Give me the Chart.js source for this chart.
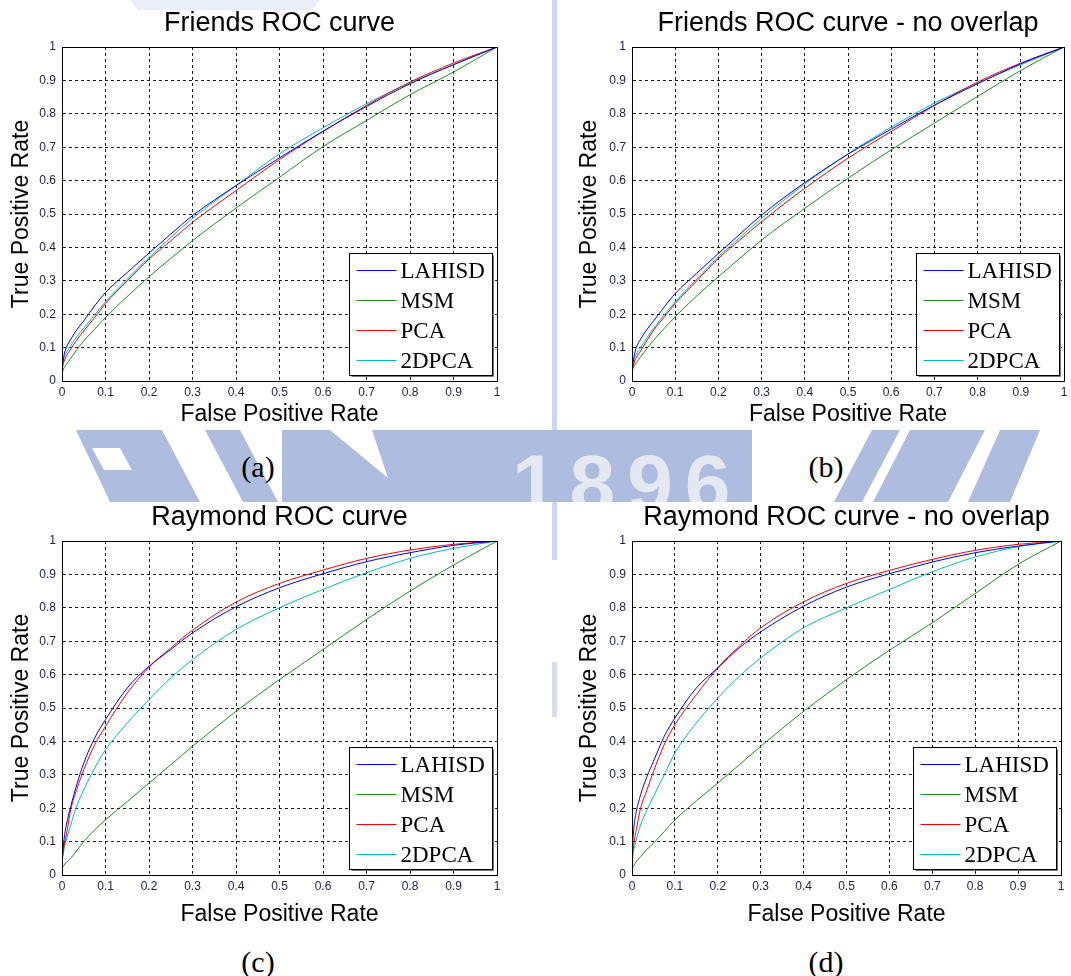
<!DOCTYPE html>
<html><head><meta charset="utf-8">
<script src="https://cdn.jsdelivr.net/npm/chart.js@4"></script>
<style>
html,body{margin:0;padding:0;background:#fff;}
body{width:1071px;height:976px;position:relative;overflow:hidden;font-family:'Liberation Sans',Arial,sans-serif;}
.wrap{position:absolute;}
canvas{display:block;}
.cap{position:absolute;width:100px;text-align:center;font-family:'Liberation Serif','Times New Roman',serif;font-size:30px;line-height:34px;color:#000;}
svg.wm{position:absolute;left:0;top:0;}
</style></head><body>
<svg class="wm" width="1071" height="976">
 <defs><clipPath id="band"><rect x="0" y="430" width="1071" height="72"/></clipPath></defs>
 <rect x="552" y="0" width="5" height="430" fill="#cdd6ee"/>
 <rect x="552" y="502" width="5" height="58" fill="#cdd6ee"/>
 <rect x="552" y="662" width="5" height="55" fill="#d6ddf0"/>
 <polygon points="130,0 320,0 312,10 138,10" fill="#eaeef8"/>
 <g clip-path="url(#band)" fill="#adbcdf">
  <polygon points="76,430 162,430 200,502 110,502"/>
  <polygon points="92,448 120,448 132,470 104,470" fill="#ffffff"/>
  <polygon points="205,430 240,430 278,502 243,502"/>
  <polygon points="282,430 752,430 752,502 282,502"/>
  <polygon points="330,430 372,430 388,478" fill="#ffffff"/>
  <text x="512" y="512" font-family="Liberation Sans, Arial" font-weight="bold" font-size="82" letter-spacing="12" fill="#e4e8f0">1896</text>
  <polygon points="872,430 900,430 862,502 834,502"/>
  <polygon points="910,430 985,430 948,502 873,502"/>
  <polygon points="1000,430 1040,430 1010,502 968,502"/>
 </g>
</svg>

<div class="wrap" style="left:0;top:0"><canvas id="cA" width="540" height="430"></canvas></div>
<div class="wrap" style="left:568px;top:0"><canvas id="cB" width="503" height="430"></canvas></div>
<div class="wrap" style="left:0;top:494px"><canvas id="cC" width="540" height="436"></canvas></div>
<div class="wrap" style="left:568px;top:494px"><canvas id="cD" width="503" height="436"></canvas></div>

<div class="cap" style="left:208px;top:450px">(a)</div>
<div class="cap" style="left:776px;top:450px">(b)</div>
<div class="cap" style="left:208px;top:945px">(c)</div>
<div class="cap" style="left:776px;top:945px">(d)</div>

<script>
// ---------- data ----------
const fpr = [0, 0.005, 0.01, 0.02, 0.035, 0.05, 0.075, 0.1, 0.15, 0.2, 0.25, 0.3, 0.4, 0.5, 0.6, 0.7, 0.8, 0.9, 1];
const seriesNames = ['LAHISD', 'MSM', 'PCA', '2DPCA'];
const seriesColors = ['#0000ff', '#1e8c1e', '#ff0000', '#00bcbc'];
const tickValues = [0, 0.1, 0.2, 0.3, 0.4, 0.5, 0.6, 0.7, 0.8, 0.9, 1];
const tickLabels = ['0', '0.1', '0.2', '0.3', '0.4', '0.5', '0.6', '0.7', '0.8', '0.9', '1'];
const chartTitles = ['Friends ROC curve', 'Friends ROC curve - no overlap', 'Raymond ROC curve', 'Raymond ROC curve - no overlap'];
const xAxisLabel = 'False Positive Rate';
const yAxisLabel = 'True Positive Rate';

// (a) Friends
const friendsLAHISD = [0.04, 0.08, 0.10, 0.125, 0.155, 0.18, 0.225, 0.265, 0.325, 0.383, 0.44, 0.495, 0.585, 0.668, 0.748, 0.822, 0.89, 0.947, 1];
const friendsMSM    = [0.025, 0.04, 0.05, 0.068, 0.095, 0.12, 0.155, 0.19, 0.253, 0.312, 0.367, 0.42, 0.518, 0.61, 0.702, 0.78, 0.857, 0.925, 1];
const friendsPCA    = [0.035, 0.06, 0.075, 0.095, 0.125, 0.15, 0.19, 0.232, 0.30, 0.365, 0.42, 0.475, 0.57, 0.663, 0.747, 0.825, 0.895, 0.952, 1];
const friends2DPCA  = [0.045, 0.07, 0.085, 0.105, 0.135, 0.158, 0.198, 0.237, 0.305, 0.37, 0.43, 0.487, 0.585, 0.68, 0.758, 0.83, 0.893, 0.947, 1];
// (b) Friends - no overlap
const friendsNoLAHISD = [0.03, 0.075, 0.10, 0.125, 0.155, 0.18, 0.222, 0.262, 0.323, 0.382, 0.44, 0.497, 0.594, 0.679, 0.754, 0.826, 0.89, 0.95, 1];
const friendsNoMSM    = [0.03, 0.045, 0.055, 0.072, 0.098, 0.122, 0.158, 0.192, 0.255, 0.312, 0.368, 0.422, 0.517, 0.607, 0.692, 0.772, 0.852, 0.93, 1];
const friendsNoPCA    = [0.03, 0.055, 0.07, 0.09, 0.122, 0.152, 0.192, 0.232, 0.30, 0.367, 0.423, 0.477, 0.577, 0.667, 0.747, 0.825, 0.895, 0.952, 1];
const friendsNo2DPCA  = [0.04, 0.065, 0.08, 0.10, 0.13, 0.157, 0.198, 0.237, 0.305, 0.372, 0.43, 0.487, 0.59, 0.68, 0.76, 0.832, 0.892, 0.947, 1];
// (c) Raymond
const raymondLAHISD = [0.05, 0.11, 0.15, 0.205, 0.275, 0.335, 0.41, 0.465, 0.56, 0.625, 0.675, 0.725, 0.803, 0.86, 0.902, 0.938, 0.965, 0.987, 1];
const raymondMSM    = [0.02, 0.03, 0.038, 0.05, 0.075, 0.10, 0.135, 0.165, 0.22, 0.275, 0.33, 0.385, 0.49, 0.585, 0.675, 0.765, 0.85, 0.928, 1];
const raymondPCA    = [0.04, 0.09, 0.12, 0.195, 0.26, 0.315, 0.39, 0.445, 0.545, 0.622, 0.68, 0.733, 0.817, 0.873, 0.913, 0.948, 0.973, 0.99, 1];
const raymond2DPCA  = [0.04, 0.08, 0.105, 0.15, 0.21, 0.255, 0.32, 0.375, 0.455, 0.525, 0.59, 0.645, 0.735, 0.80, 0.855, 0.905, 0.948, 0.978, 1];
// (d) Raymond - no overlap
const raymondNoLAHISD = [0.07, 0.15, 0.19, 0.24, 0.295, 0.34, 0.415, 0.47, 0.56, 0.62, 0.68, 0.728, 0.805, 0.862, 0.902, 0.937, 0.965, 0.985, 1];
const raymondNoMSM    = [0.02, 0.03, 0.04, 0.055, 0.077, 0.095, 0.13, 0.165, 0.222, 0.275, 0.33, 0.385, 0.49, 0.585, 0.673, 0.755, 0.843, 0.93, 1];
const raymondNoPCA    = [0.05, 0.10, 0.135, 0.20, 0.255, 0.31, 0.39, 0.45, 0.54, 0.62, 0.685, 0.74, 0.818, 0.873, 0.912, 0.945, 0.972, 0.99, 1];
const raymondNo2DPCA  = [0.04, 0.08, 0.105, 0.15, 0.195, 0.235, 0.30, 0.365, 0.455, 0.53, 0.595, 0.65, 0.74, 0.80, 0.855, 0.908, 0.952, 0.983, 1];

// ---------- plugins ----------
const framePlugin = {
  id: 'frame',
  afterDatasetsDraw(chart) {
    const a = chart.chartArea, ctx = chart.ctx;
    ctx.save();
    ctx.strokeStyle = '#000'; ctx.lineWidth = 1; ctx.setLineDash([]);
    ctx.strokeRect(Math.round(a.left) + 0.5, Math.round(a.top) + 0.5, Math.round(a.right - a.left), Math.round(a.bottom - a.top));
    ctx.restore();
  }
};
const boxLegendPlugin = {
  id: 'boxLegend',
  afterDraw(chart) {
    const a = chart.chartArea, ctx = chart.ctx;
    const w = 143, h = 122;
    const L = Math.round(a.right - 5 - w) + 0.5, T = Math.round(a.bottom - 6 - h) + 0.5;
    ctx.save();
    ctx.setLineDash([]);
    ctx.fillStyle = '#fff';
    ctx.fillRect(L, T, w, h);
    ctx.strokeStyle = '#777'; ctx.lineWidth = 1;
    ctx.beginPath(); ctx.moveTo(L + w + 1, T + 2); ctx.lineTo(L + w + 1, T + h + 1); ctx.lineTo(L + 2, T + h + 1); ctx.stroke();
    ctx.strokeStyle = '#000';
    ctx.strokeRect(L, T, w, h);
    ctx.font = '23px "Liberation Serif", "Times New Roman", serif';
    ctx.textBaseline = 'middle'; ctx.textAlign = 'left';
    chart.data.datasets.forEach((ds, i) => {
      const y = Math.round(T + 16.5 + i * 30) + 0.5;
      ctx.strokeStyle = ds.borderColor; ctx.lineWidth = 1;
      ctx.beginPath(); ctx.moveTo(L + 7, y); ctx.lineTo(L + 47, y); ctx.stroke();
      ctx.fillStyle = '#000';
      ctx.fillText(ds.label, L + 51, y + 1);
    });
    ctx.restore();
  }
};

function makeChart(id, title, seriesData, area) {
  const cv = document.getElementById(id);
  const W = cv.width, H = cv.height;
  const tickFont = { family: '"Liberation Sans", Arial, sans-serif', size: 12 };
  const axisTitleFont = { family: '"Liberation Sans", Arial, sans-serif', size: 23 };
  const gridCfg = { color: '#1a1a1a', lineWidth: 1, drawTicks: false, tickLength: 0 };
  const borderCfg = { display: true, color: '#000', width: 1, dash: [3, 3] };
  return new Chart(cv, {
    type: 'line',
    data: {
      datasets: seriesNames.map((name, i) => ({
        label: name,
        data: fpr.map((x, k) => ({ x: x, y: seriesData[i][k] })),
        borderColor: seriesColors[i],
        borderWidth: 1,
        pointRadius: 0,
        fill: false,
        cubicInterpolationMode: 'monotone'
      }))
    },
    options: {
      responsive: false,
      animation: false,
      devicePixelRatio: 1,
      layout: { padding: { left: 0, top: 0, bottom: 0, right: W - area.right } },
      plugins: {
        legend: { display: false },
        tooltip: { enabled: false },
        title: {
          display: true, text: title, fullSize: false, color: '#000',
          font: { family: '"Liberation Sans", Arial, sans-serif', size: 27, weight: 'normal', lineHeight: 1.2 },
          padding: { top: 7, bottom: area.top - 7 - 32.4 }
        }
      },
      scales: {
        x: {
          type: 'linear', min: 0, max: 1,
          afterBuildTicks: s => { s.ticks = tickValues.map(v => ({ value: v })); },
          afterFit: s => { s.height = H - area.bottom; s.paddingLeft = 0; s.paddingRight = 0; },
          ticks: { callback: (v, i) => tickLabels[i], font: tickFont, color: '#1e1e46', padding: 4, maxRotation: 0, autoSkip: false },
          grid: gridCfg, border: borderCfg,
          title: { display: true, text: xAxisLabel, color: '#000', font: axisTitleFont, padding: { top: 0, bottom: 2 } }
        },
        y: {
          type: 'linear', min: 0, max: 1,
          afterBuildTicks: s => { s.ticks = tickValues.map(v => ({ value: v })); },
          afterFit: s => { s.width = area.left; s.paddingTop = 0; s.paddingBottom = 0; },
          ticks: { callback: (v, i) => tickLabels[i], font: tickFont, color: '#1e1e46', padding: 6, autoSkip: false },
          grid: gridCfg, border: borderCfg,
          title: { display: true, text: yAxisLabel, color: '#000', font: axisTitleFont, padding: { top: 8, bottom: 0 } }
        }
      }
    },
    plugins: [framePlugin, boxLegendPlugin]
  });
}

makeChart('cA', chartTitles[0], [friendsLAHISD, friendsMSM, friendsPCA, friends2DPCA], { left: 62, right: 497, top: 47, bottom: 381 });
makeChart('cB', chartTitles[1], [friendsNoLAHISD, friendsNoMSM, friendsNoPCA, friendsNo2DPCA], { left: 64, right: 496, top: 47, bottom: 381 });
makeChart('cC', chartTitles[2], [raymondLAHISD, raymondMSM, raymondPCA, raymond2DPCA], { left: 62, right: 497, top: 47, bottom: 381 });
makeChart('cD', chartTitles[3], [raymondNoLAHISD, raymondNoMSM, raymondNoPCA, raymondNo2DPCA], { left: 64, right: 493, top: 47, bottom: 381 });
</script>
</body></html>
